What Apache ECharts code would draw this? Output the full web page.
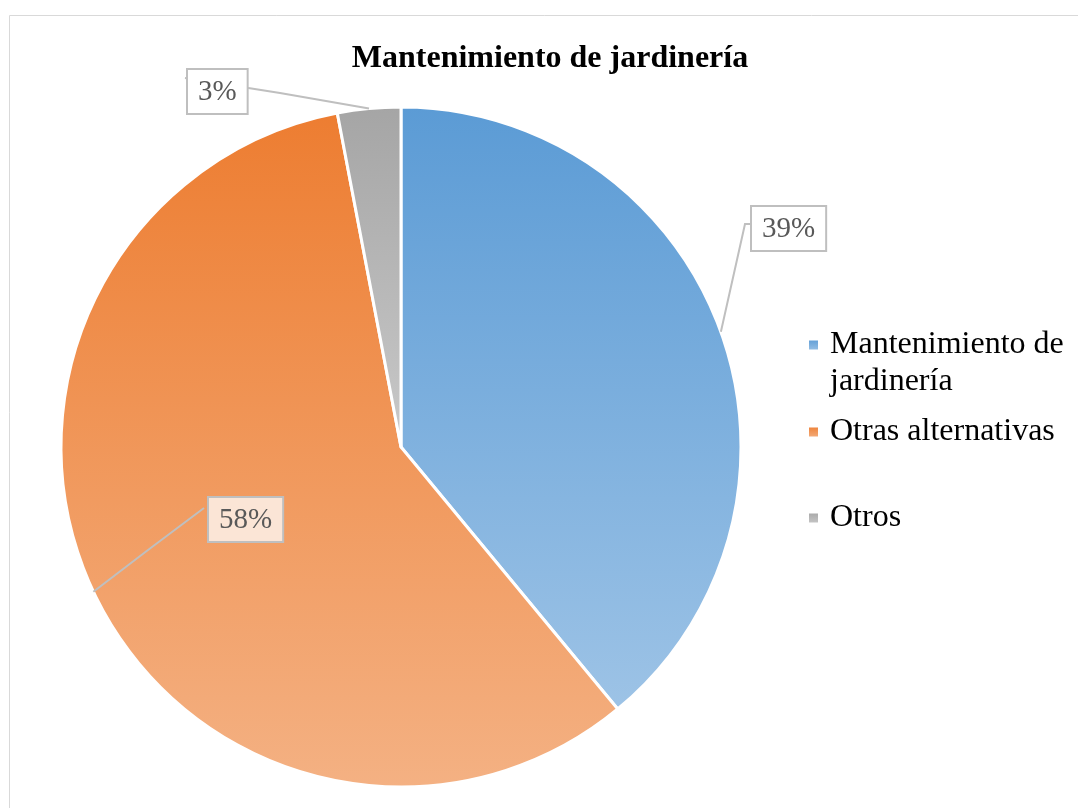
<!DOCTYPE html>
<html>
<head>
<meta charset="utf-8">
<script src="https://cdn.jsdelivr.net/npm/echarts@6/dist/echarts.min.js"></script>
<style>
  html, body { margin: 0; background: #fff; }
  #chart { width: 1078px; height: 808px; }
</style>
</head>
<body>
<div id="chart"></div>
<script>
// data
const categories = ['Mantenimiento de jardinería', 'Otras alternativas', 'Otros'];
const values = [39, 58, 3];

// gradient per slice, top -> bottom
const topColors = ['#5B9BD5', '#ED7D31', '#A5A5A5'];
const bottomColors = ['#9DC3E6', '#F4B183', '#C9C9C9'];
const labelFills = ['#FFFFFF', '#FBE5D6', '#FFFFFF'];

// where each label box sits and how its leader line bends
const labelPlaces = [
  { x: 752, y: 207, bend: [745, 224], end: [752, 224] },
  { x: 209, y: 498, bend: [148, 550], end: [204, 508] },
  { x: 188, y: 70, bend: [280, 93], end: [185, 78] }
];

const serif = '"Liberation Serif", "DejaVu Serif", serif';

const chart = echarts.init(document.getElementById('chart'));

const legendTops = [289.5, 413.5, 499.5];

const pieBase = {
  type: 'pie',
  center: [401, 447],
  radius: 340,
  startAngle: 90,
  clockwise: true,
  avoidLabelOverlap: false,
  emphasis: { disabled: true }
};

const option = {
  animation: false,
  title: {
    text: 'Mantenimiento de jardinería',
    left: 550,
    top: 43,
    padding: 0,
    textAlign: 'center',
    textStyle: { fontFamily: serif, fontSize: 32, fontWeight: 'bold', color: '#000' }
  },
  graphic: [{
    type: 'rect',
    silent: true,
    shape: { x: 9.5, y: 15.5, width: 1200, height: 1000 },
    style: { fill: 'none', stroke: '#D9D9D9', lineWidth: 1 }
  }],
  legend: categories.map((name, i) => ({
    data: [name],
    orient: 'vertical',
    left: 807,
    top: legendTops[i],
    padding: 0,
    itemWidth: 11,
    itemHeight: 11,
    icon: 'rect',
    selectedMode: false,
    formatter: n => (i === 0 ? '\nMantenimiento de\njardinería' : n),
    textStyle: { fontFamily: serif, fontSize: 32, lineHeight: 37, color: '#000', padding: [0, 0, 0, 6] }
  })),
  series: [
    // slices
    Object.assign({}, pieBase, {
      z: 2,
      itemStyle: { borderColor: '#fff', borderWidth: 3 },
      label: { show: false },
      labelLine: { show: false },
      data: categories.map((name, i) => ({
        name: name,
        value: values[i],
        itemStyle: {
          color: new echarts.graphic.LinearGradient(0, 0, 0, 1, [
            { offset: 0, color: topColors[i] },
            { offset: 1, color: bottomColors[i] }
          ])
        }
      }))
    }),
    // labels and leader lines on top of the slices
    Object.assign({}, pieBase, {
      z: 5,
      silent: true,
      itemStyle: { color: 'rgba(0,0,0,0)', borderWidth: 0 },
      label: {
        show: true,
        position: 'outside',
        formatter: p => Math.round(p.percent) + '%',
        fontFamily: serif,
        fontSize: 29,
        lineHeight: 33,
        color: '#595959',
        borderColor: '#BFBFBF',
        borderWidth: 2,
        padding: [6, 10, 4, 10]
      },
      labelLine: { show: true, lineStyle: { color: '#BFBFBF', width: 2 } },
      labelLayout: params => {
        const p = labelPlaces[params.dataIndex];
        const start = params.labelLinePoints ? params.labelLinePoints[0] : p.bend;
        return {
          x: p.x,
          y: p.y,
          align: 'left',
          verticalAlign: 'top',
          labelLinePoints: [start, p.bend, p.end]
        };
      },
      data: categories.map((name, i) => ({
        name: name,
        value: values[i],
        label: { backgroundColor: labelFills[i] }
      }))
    })
  ]
};

chart.setOption(option);
</script>
</body>
</html>
